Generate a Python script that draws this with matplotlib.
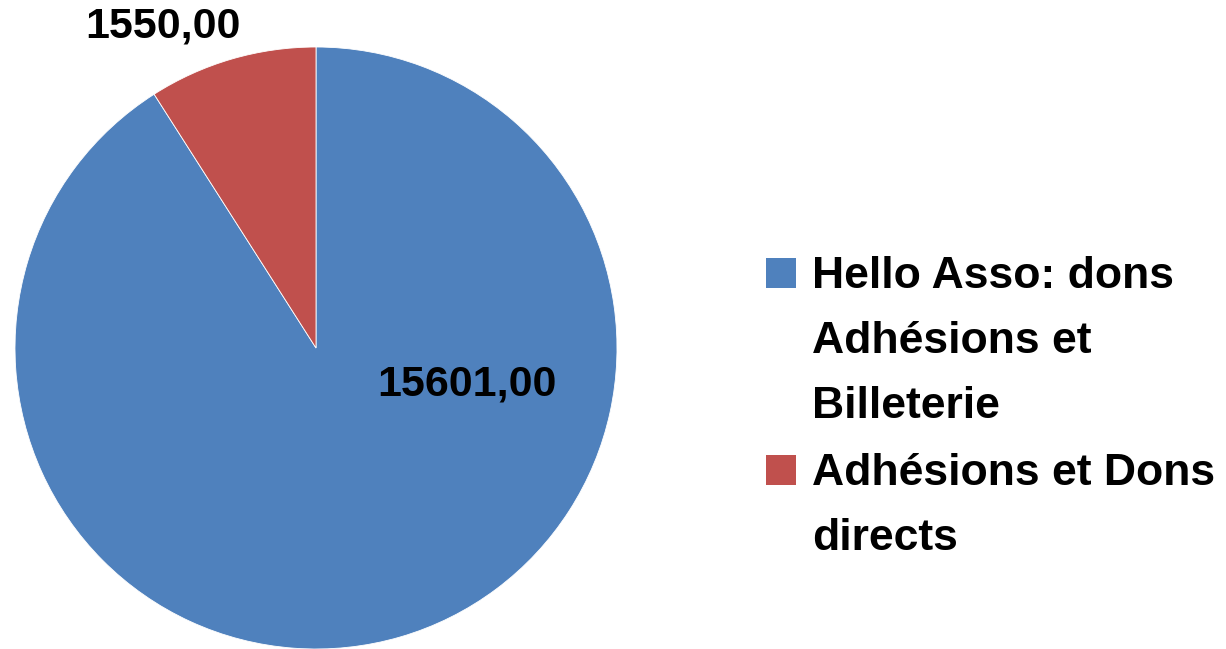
import matplotlib.pyplot as plt
from matplotlib.patches import Rectangle

# Data
categories = ["Hello Asso: dons\nAdhésions et\nBilleterie",
              "Adhésions et Dons\ndirects"]
values = [15601.00, 1550.00]
colors = ["#4F81BD", "#C0504D"]
# value label positions, in pie-radius units
label_pos = [(0.50, -0.12), (-0.51, 1.067)]

W, H = 1226, 649
fig = plt.figure(figsize=(W / 100, H / 100), dpi=100)
plt.rcParams['font.family'] = ['Liberation Sans', 'DejaVu Sans']

# pie: centre (316, 348) px, radius 301 px
cx, cy, r = 316, 348, 301
ax = fig.add_axes([(cx - r) / W, (H - cy - r) / H, 2 * r / W, 2 * r / H])
ax.pie(values, colors=colors, startangle=90, counterclock=False,
       wedgeprops=dict(linewidth=0.6, edgecolor="white"))
ax.set_xlim(-1, 1)
ax.set_ylim(-1, 1)
ax.set_aspect("equal")
ax.axis("off")

for v, (x, y) in zip(values, label_pos):
    ax.text(x, y, f"{v:.2f}".replace(".", ","), ha="center", va="center",
            fontsize=31, fontweight="bold", color="black", clip_on=False)

# legend drawn by hand so the square sits on the first line
line_h = 65
y_base = 288
for lab, col in zip(categories, colors):
    lines = lab.split("\n")
    fig.patches.append(Rectangle((766 / W, 1 - 288 / H - (y_base - 288) / H), 30 / W, 30 / H,
                                 transform=fig.transFigure, facecolor=col,
                                 edgecolor="none"))
    for j, ln in enumerate(lines):
        fig.text(812 / W, 1 - (y_base + j * line_h) / H, ln, ha="left",
                 va="baseline", fontsize=32, fontweight="bold", color="black")
    y_base += len(lines) * line_h + 2

fig.savefig("out.png", dpi=100)
